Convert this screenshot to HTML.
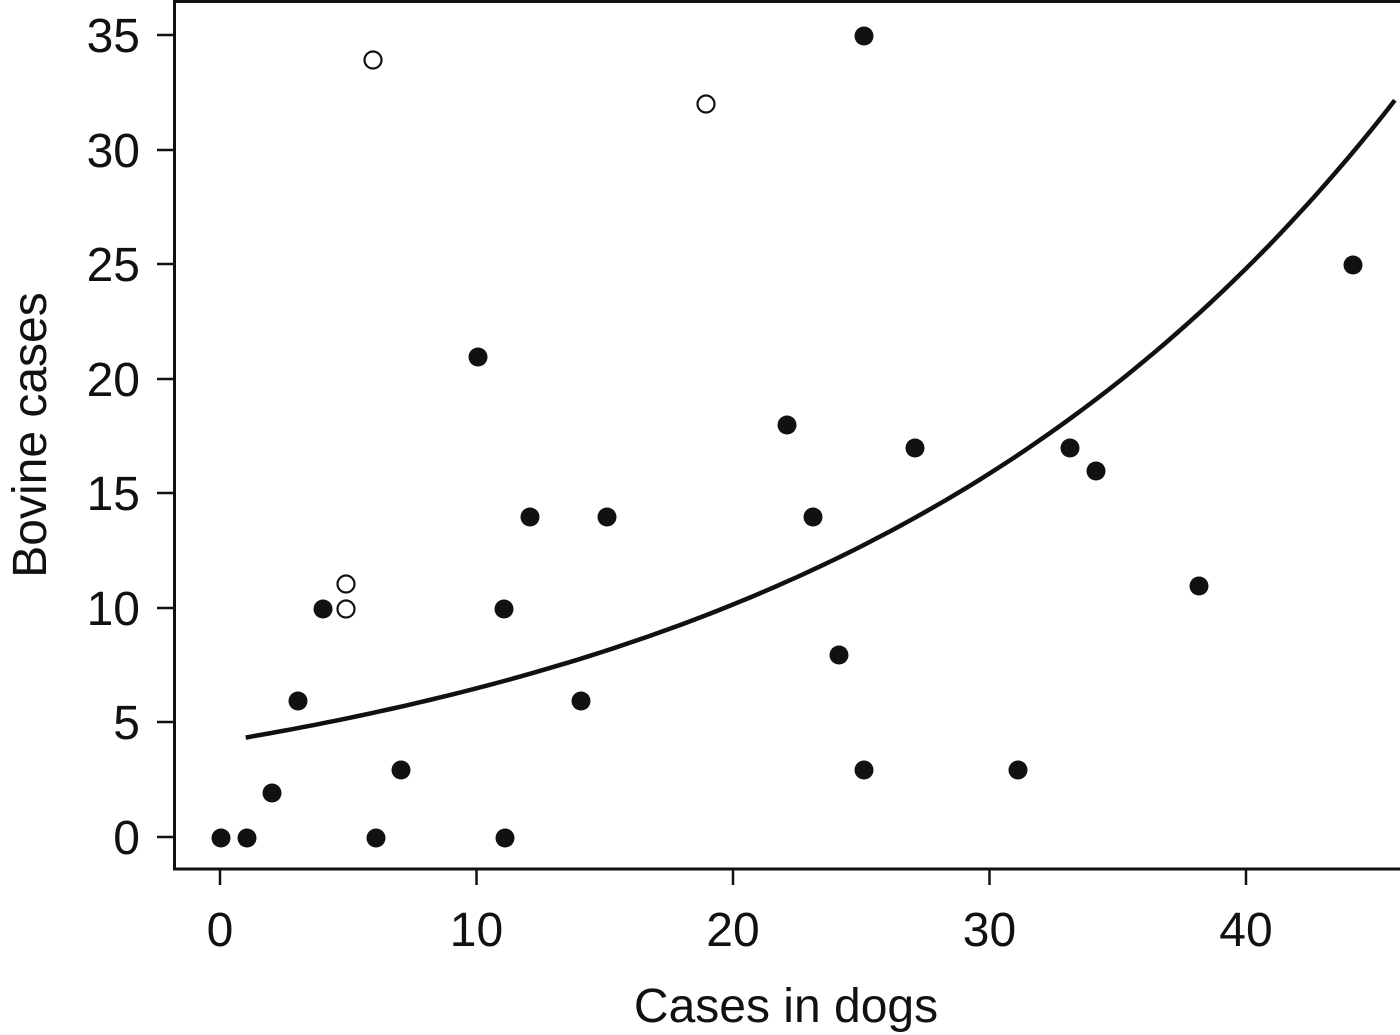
<!DOCTYPE html>
<html><head><style>
html,body{margin:0;padding:0;background:#fff;}
svg{display:block;}
text{font-family:"Liberation Sans",Arial,sans-serif;fill:#111;}
</style></head><body>
<svg id="s" width="1400" height="1035" viewBox="0 0 1400 1035" xmlns="http://www.w3.org/2000/svg">
<rect x="174.5" y="1.5" width="1240" height="867.5" fill="none" stroke="#111" stroke-width="3"/>
<g stroke="#111" stroke-width="2.5">
<line x1="220" y1="869" x2="220" y2="885"/><line x1="476.5" y1="869" x2="476.5" y2="885"/><line x1="733" y1="869" x2="733" y2="885"/><line x1="989.5" y1="869" x2="989.5" y2="885"/><line x1="1246" y1="869" x2="1246" y2="885"/>
<line x1="157" y1="837" x2="174" y2="837"/><line x1="157" y1="722" x2="174" y2="722"/><line x1="157" y1="608" x2="174" y2="608"/><line x1="157" y1="493" x2="174" y2="493"/><line x1="157" y1="379" x2="174" y2="379"/><line x1="157" y1="264" x2="174" y2="264"/><line x1="157" y1="150" x2="174" y2="150"/><line x1="157" y1="35" x2="174" y2="35"/>
</g>
<g font-size="48" text-anchor="middle">
<text x="220" y="946">0</text><text x="476.5" y="946">10</text><text x="733" y="946">20</text><text x="989.5" y="946">30</text><text x="1246" y="946">40</text>
</g>
<g font-size="48" text-anchor="end">
<text x="140" y="854">0</text><text x="140" y="739">5</text><text x="140" y="625">10</text><text x="140" y="510">15</text><text x="140" y="396">20</text><text x="140" y="281">25</text><text x="140" y="167">30</text><text x="140" y="52">35</text>
</g>
<text x="786" y="1022" font-size="48" text-anchor="middle">Cases in dogs</text>
<text transform="translate(46,435) rotate(-90)" font-size="48" text-anchor="middle">Bovine cases</text>
<path id="curve" fill="none" stroke="#111" stroke-width="4.5"/>
<g id="pts" fill="#111"></g>
<g fill="none" stroke="#111" stroke-width="2.2">
<circle cx="373" cy="60" r="8.5"/><circle cx="706" cy="104" r="8.5"/><circle cx="346" cy="584" r="8.5"/><circle cx="346" cy="609" r="8.5"/>
</g>
</svg>
<script>
var f=[[221,838],[247,838],[272,793],[298,701],[323,609],[376,838],[401,770],[478,357],[504,609],[505,838],[530,517],[581,701],[607,517],[787,425],[813,517],[839,655],[864,36],[864,770],[915,448],[1018,770],[1070,448],[1096,471],[1199,586],[1353,265]];
var g=document.getElementById('pts'),ns='http://www.w3.org/2000/svg';
f.forEach(function(p){var c=document.createElementNS(ns,'circle');c.setAttribute('cx',p[0]);c.setAttribute('cy',p[1]);c.setAttribute('r',9.5);g.appendChild(c);});
var d='';for(var i=0;i<=100;i++){var x=1+i*(45.8-1)/100;var v=4.15*Math.exp(0.0447*x);var px=220+x*25.65,py=837-v*22.914;d+=(i?'L':'M')+px.toFixed(1)+' '+py.toFixed(1);}
document.getElementById('curve').setAttribute('d',d);
</script>
</body></html>
